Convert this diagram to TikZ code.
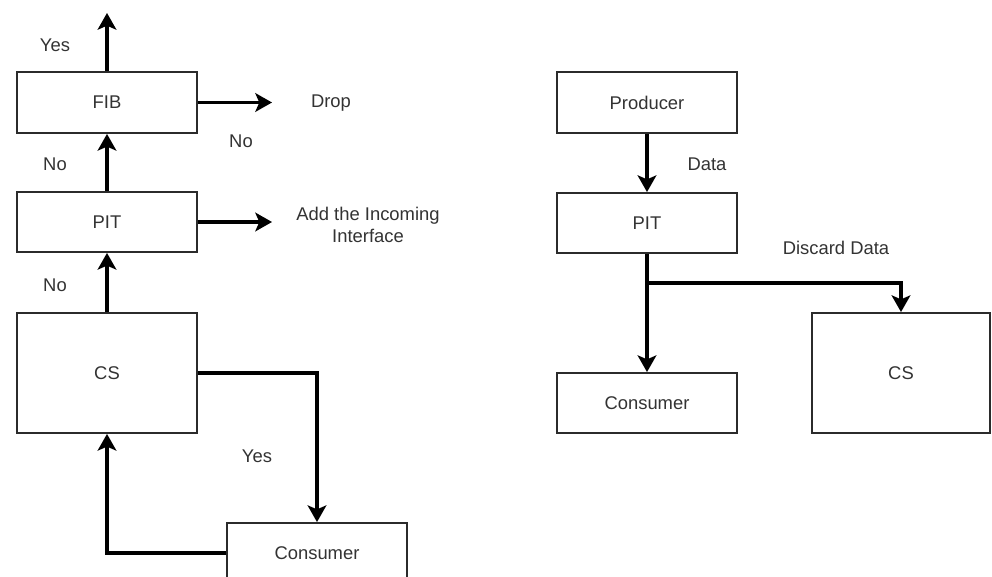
\documentclass[tikz,border=0pt]{standalone}
\usepackage{fontspec}
\setmainfont{Liberation Sans}
\usetikzlibrary{arrows.meta}
\definecolor{txt}{HTML}{333333}
\definecolor{edge}{HTML}{2b2b2b}
\tikzset{
  box/.style={draw=edge, line width=1.4pt, rectangle, inner sep=0pt, minimum width=135pt, text=txt, font=\fontsize{13.8}{16.5}\selectfont},
  conn/.style={line width=2.5pt, -{Stealth[length=12.5pt,width=14pt,inset=3pt]}},
  lbl/.style={text=txt, font=\fontsize{13.8}{16.5}\selectfont, inner sep=0pt},
}
\begin{document}
\begin{tikzpicture}[x=0.75pt,y=-0.75pt]
\useasboundingbox[fill=white] (0,0) rectangle (992,577);
% left side
\node[box, minimum height=45.75pt] (fib) at (107,102.5) {FIB};
\node[box, minimum height=45pt] (pitL) at (107,222) {PIT};
\node[box, minimum height=90pt] (csL) at (107,373) {CS};
\node[box, minimum height=45pt] (conL) at (317,553) {Consumer};
\coordinate (yesEnd) at (107,13);
\coordinate (dropEnd) at (272,102.5);
\coordinate (addEnd) at (272,222);
\draw[conn] (fib.north) -- (yesEnd);
\draw[conn] (fib.east) -- (dropEnd);
\draw[conn] (pitL.north) -- (fib.south);
\draw[conn] (pitL.east) -- (addEnd);
\draw[conn] (csL.north) -- (pitL.south);
\draw[conn] (csL.east) -| (conL.north);
\draw[conn] (conL.west) -| (csL.south);
\node[lbl] (l1) at (55,45) {Yes};
\node[lbl] (l2) at (241,141) {No};
\node[lbl] (l3) at (331,103) {Drop};
\node[lbl] (l4) at (55,164) {No};
\node[lbl, align=center] (l5) at (368,225) {Add the Incoming\\Interface};
\node[lbl] (l6) at (55,285) {No};
\node[lbl] (l7) at (257,456) {Yes};
% right side
\node[box, minimum height=45.75pt] (prod) at (647,102.5) {Producer};
\node[box, minimum height=45pt] (pitR) at (647,223) {PIT};
\node[box, minimum height=45pt] (conR) at (647,403) {Consumer};
\node[box, minimum height=90pt, minimum width=133.5pt] (csR) at (901,373) {CS};
\coordinate (br) at (647,283);
\draw[conn] (prod.south) -- (pitR.north);
\draw[conn] (pitR.south) -- (conR.north);
\draw[conn] (br) -| (csR.north);
\node[lbl] (l8) at (707,164) {Data};
\node[lbl] (l9) at (836,248) {Discard Data};
\end{tikzpicture}
\end{document}
